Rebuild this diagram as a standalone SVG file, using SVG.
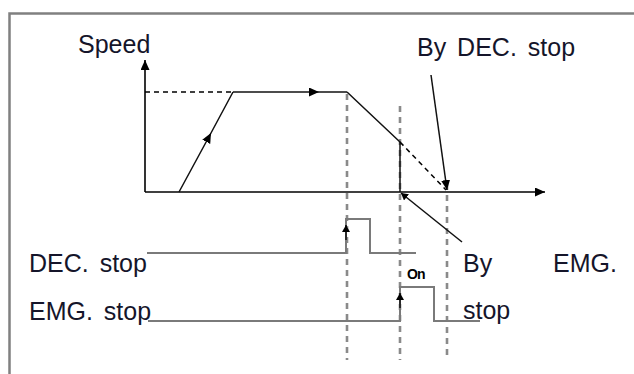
<svg xmlns="http://www.w3.org/2000/svg" width="634" height="374" viewBox="0 0 634 374">
<style>
.t{font-family:"Liberation Sans",Arial,sans-serif;font-size:25px;word-spacing:4px;fill:#15152a}
.on{font-family:"Liberation Sans",Arial,sans-serif;font-size:14px;font-weight:bold;fill:#000;letter-spacing:-1px}
.ax{stroke:#000;stroke-width:1.6;fill:none}
.ln{stroke:#111;stroke-width:1.5;fill:none}
.dash{stroke:#000;stroke-width:1.5;fill:none;stroke-dasharray:5 4}
.vd{stroke:#8a8a8a;stroke-width:2.6;fill:none;stroke-dasharray:6 5}
.sig{stroke:#7a7a7a;stroke-width:2;fill:none}
</style>
<defs>
<marker id="ah" markerWidth="12" markerHeight="10" refX="10" refY="4.5" orient="auto" markerUnits="userSpaceOnUse">
<path d="M0,0 L10,4.5 L0,9 Z" fill="#000"/>
</marker>
<marker id="ahs" markerWidth="8" markerHeight="8" refX="7" refY="4" orient="auto" markerUnits="userSpaceOnUse">
<path d="M0,0 L7,4 L0,8 Z" fill="#000"/>
</marker>
</defs>
<rect x="9.5" y="13.5" width="640" height="400" fill="none" stroke="#808080" stroke-width="2.5"/>
<g id="axes">
<line class="ax" x1="145" y1="192" x2="145" y2="60" marker-end="url(#ah)"/>
<line class="ax" x1="145" y1="192" x2="545" y2="192" marker-end="url(#ah)"/>
</g>
<g id="guides">
<line class="vd" x1="347" y1="94" x2="347" y2="360"/>
<line class="vd" x1="400" y1="106" x2="400" y2="360"/>
<line class="vd" x1="447" y1="184" x2="447" y2="360"/>
</g>
<g id="connectors">
<line class="dash" x1="145" y1="92" x2="233" y2="92"/>
<polyline class="ln" points="179,192 211,133 233,92" marker-mid="url(#ah)"/>
<polyline class="ln" points="233,92 319,92 347,92" marker-mid="url(#ah)"/>
<polyline class="ln" points="347,92 400,142 400,192"/>
<line class="dash" x1="400" y1="142" x2="446" y2="190"/>
<line class="ln" x1="431" y1="75" x2="447" y2="190" marker-end="url(#ah)"/>
<line class="ln" x1="462" y1="242" x2="401" y2="193" marker-end="url(#ahs)"/>
</g>
<g id="dec-signal">
<polyline class="sig" points="147,253 346,253 346,219 370,219 370,253 416,253"/>
<line class="ln" x1="346" y1="240" x2="346" y2="225" marker-end="url(#ahs)"/>
</g>
<g id="emg-signal">
<polyline class="sig" points="148,321 400,321 400,287 434,287 434,321 480,321"/>
<line class="ln" x1="400" y1="308" x2="400" y2="293" marker-end="url(#ahs)"/>
</g>
<g id="labels">
<text class="t" x="78" y="53">Speed</text>
<text class="t" x="417" y="56">By DEC. stop</text>
<text class="t" x="29" y="272">DEC. stop</text>
<text class="t" x="29" y="320">EMG. stop</text>
<text class="t" x="463" y="272">By</text>
<text class="t" x="553" y="272">EMG.</text>
<text class="t" x="463" y="319">stop</text>
<text class="on" x="407" y="279">On</text>
</g>
</svg>
